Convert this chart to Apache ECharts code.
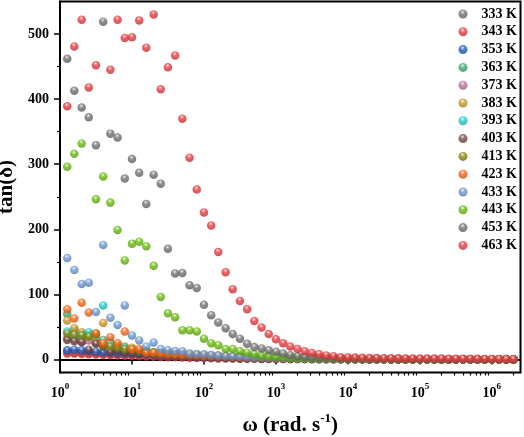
<!DOCTYPE html>
<html>
<head>
<meta charset="utf-8">
<script src="https://cdn.jsdelivr.net/npm/echarts@6/dist/echarts.min.js"></script>
<style>html,body{margin:0;padding:0;background:#fff}#c{width:524px;height:437px}</style>
</head>
<body>
<div id="c"></div>
<script>
// angular frequency (rad/s)
const omega = [1.26,1.58,2.00,2.51,3.16,3.98,5.01,6.31,7.94,10.0,12.6,15.8,20.0,25.1,31.6,39.8,50.1,63.1,79.4,100,126,158,200,251,316,398,501,631,794,1000,1259,1585,1995,2512,3162,3981,5012,6310,7943,10000,12589,15849,19953,25119,31623,39811,50119,63096,79433,100000,125893,158489,199526,251189,316228,398107,501187,630957,794328,1000000,1258925,1584893,1995262];

const seriesNames = ['333 K','343 K','353 K','363 K','373 K','383 K','393 K','403 K','413 K','423 K','433 K','443 K','453 K','463 K'];

const t333 = [12,11,10.5,10,9.5,9,8.5,8,7.5,7,6.6,6.2,5.8,5.4,5,4.6,4.2,3.8,3.4,3,2.7,2.4,2.1,1.9,1.7,1.5,1.35,1.2,1.1,1,0.9,0.85,0.8,0.75,0.7,0.65,0.6,0.55,0.5,0.48,0.46,0.44,0.42,0.4,0.38,0.36,0.34,0.32,0.3,0.29,0.28,0.27,0.26,0.25,0.24,0.23,0.22,0.21,0.2,0.19,0.18,0.17,0.16];
const t343 = [9,9,8.5,8,7.5,7,6.5,6,5.6,5.2,4.8,4.5,4.2,3.9,3.6,3.3,3,2.7,2.4,2.1,1.9,1.7,1.5,1.35,1.2,1.1,1,0.9,0.85,0.8,0.75,0.7,0.65,0.6,0.55,0.5,0.48,0.46,0.44,0.42,0.4,0.38,0.36,0.34,0.32,0.3,0.29,0.28,0.27,0.26,0.25,0.24,0.23,0.22,0.21,0.2,0.19,0.18,0.17,0.16,0.15,0.14,0.13];
const t353 = [14,15,14,13,12,11,10.5,10,9.5,9,8.5,8,7.5,7,6.5,6,5.5,5,4.6,4.2,3.8,3.4,3,2.7,2.4,2.1,1.9,1.7,1.5,1.35,1.2,1.1,1,0.9,0.85,0.8,0.75,0.7,0.65,0.6,0.55,0.5,0.48,0.46,0.44,0.42,0.4,0.38,0.36,0.34,0.32,0.3,0.29,0.28,0.27,0.26,0.25,0.24,0.23,0.22,0.21,0.2,0.19];
const t363 = [70,45,40,38,33,30,26,22,19,16,14,12,11,10,9,8.5,8,7.5,7,6.5,6,5.5,5,4.6,4.2,3.8,3.4,3,2.7,2.4,2.1,1.9,1.7,1.5,1.35,1.2,1.1,1,0.9,0.85,0.8,0.75,0.7,0.65,0.6,0.55,0.5,0.48,0.46,0.44,0.42,0.4,0.38,0.36,0.34,0.32,0.3,0.29,0.28,0.27,0.26,0.25,0.24];
const t373 = [33,31,27,29,25,23,21,19,16,15,12,11,10,9,8,7.5,7,6.5,6,5.5,5,4.6,4.2,3.8,3.4,3,2.7,2.4,2.1,1.9,1.7,1.5,1.35,1.2,1.1,1,0.9,0.85,0.8,0.75,0.7,0.65,0.6,0.55,0.5,0.48,0.46,0.44,0.42,0.4,0.38,0.36,0.34,0.32,0.3,0.29,0.28,0.27,0.26,0.25,0.24,0.23,0.22];
const t383 = [60,48,42,36,32,56,26,22,20,18,14,12,10,9,8,7.5,7,6.5,6,5.5,5,4.6,4.2,3.8,3.4,3,2.7,2.4,2.1,1.9,1.7,1.5,1.35,1.2,1.1,1,0.9,0.85,0.8,0.75,0.7,0.65,0.6,0.55,0.5,0.48,0.46,0.44,0.42,0.4,0.38,0.36,0.34,0.32,0.3,0.29,0.28,0.27,0.26,0.25,0.24,0.23,0.22];
const t393 = [43,35,37,42,38,83,25,20,18,15,12,10,9,8,7.5,7,6.5,6,5.5,5,4.6,4.2,3.8,3.4,3,2.7,2.4,2.1,1.9,1.7,1.5,1.35,1.2,1.1,1,0.9,0.85,0.8,0.75,0.7,0.65,0.6,0.55,0.5,0.48,0.46,0.44,0.42,0.4,0.38,0.36,0.34,0.32,0.3,0.29,0.28,0.27,0.26,0.25,0.24,0.23,0.22,0.21];
const t403 = [30,28,27,15,24,20,12,14,11,10,9,8.5,8,7.5,7,6.5,6,5.5,5,4.6,4.2,3.8,3.4,3,2.7,2.4,2.1,1.9,1.7,1.5,1.35,1.2,1.1,1,0.9,0.85,0.8,0.75,0.7,0.65,0.6,0.55,0.5,0.48,0.46,0.44,0.42,0.4,0.38,0.36,0.34,0.32,0.3,0.29,0.28,0.27,0.26,0.25,0.24,0.23,0.22,0.21,0.2];
const t413 = [40,38,37,35,40,22,20,18,16,15,14,12,11,10,9.5,9,8.5,8,7.5,7,6.5,6,5.5,5,4.5,4,3.6,3.2,2.8,2.5,2.2,2,1.8,1.6,1.4,1.3,1.2,1.1,1,0.9,0.85,0.8,0.75,0.7,0.65,0.6,0.55,0.5,0.48,0.46,0.44,0.42,0.4,0.38,0.36,0.34,0.32,0.3,0.29,0.28,0.27,0.26,0.25];
const t423 = [77,63,87,72,40,25,34,25,43,16,16,10,10,9,8,7.5,7,6.5,6,5.5,5,4.6,4.2,3.8,3.4,3,2.7,2.4,2.1,1.9,1.7,1.5,1.35,1.2,1.1,1.0,0.9,0.8,0.75,0.7,0.65,0.6,0.55,0.5,0.48,0.45,0.42,0.4,0.38,0.36,0.34,0.32,0.3,0.29,0.28,0.27,0.26,0.25,0.24,0.23,0.22,0.21,0.2];
const t433 = [156,137.5,116,118,73,176,64,53,83,37,29,20,26,16,14,13,12.5,9,8.5,8,7,6,5.5,5,4.5,4,3.6,3.2,2.9,2.6,2.3,2.1,1.9,1.7,1.5,1.4,1.3,1.2,1.1,1.0,0.95,0.9,0.85,0.8,0.75,0.7,0.65,0.6,0.58,0.55,0.52,0.5,0.48,0.46,0.44,0.42,0.4,0.38,0.36,0.35,0.34,0.33,0.32];
const t443 = [296,316,332,null,246,281,241,199,152,178,181,174,144,96,71,65,45,45,43,32,25,22,16,16,12.7,10.5,8,6,5,4.2,3.5,3,2.6,2.3,2,1.8,1.6,1.4,1.25,1.1,1.0,0.9,0.8,0.75,0.7,0.65,0.6,0.55,0.5,0.48,0.45,0.42,0.4,0.38,0.36,0.34,0.32,0.3,0.29,0.28,0.27,0.26,0.25];
const t453 = [462,413,387,372,329,519,347,341,278,308,287,239,284,270,170,132,133,114,110,84,68,57,48,39,32,24,19,17,14,12,9,6.6,5,4.2,3.5,3.0,2.6,2.2,1.9,1.7,1.5,1.3,1.2,1.1,1.0,0.9,0.85,0.8,0.75,0.7,0.65,0.6,0.58,0.55,0.52,0.5,0.48,0.46,0.44,0.42,0.4,0.38,0.36];
const t463 = [389,481,522,418,452,null,445,522,494,495,521,479,530,415,449,467,370,310,261,226,206,165,134,108,90,77,59,49,39,31,25,20,16,12.7,10,8,6,5,3.5,3.2,3.0,2.6,2.3,2.2,2.0,1.9,1.8,1.7,1.6,1.5,1.45,1.4,1.35,1.3,1.25,1.2,1.1,1.0,0.9,0.8,0.7,0.6,0.5];

const seriesValues = [t333,t343,t353,t363,t373,t383,t393,t403,t413,t423,t433,t443,t453,t463];
const seriesColors = ['#737373','#ee3b3f','#1f5fbf','#3aae7a','#c0739a','#d09a28','#1fd0d0','#784848','#8c8c10','#ff6614','#6d9bd6','#6cbf10','#737373','#ee3b3f'];

const yLabels = [0,100,200,300,400,500];
const yMinor = [50,150,250,350,450];
const xLabels = [1,10,100,1000,10000,100000,1000000];
const xMinor = [];
[1,10,100,1000,10000,100000,1000000].forEach(d => { [2,3,4,5,6,7,8,9].forEach(m => { if (d*m < 2.5e6) xMinor.push(d*m); }); });

const FONT = '"Liberation Serif","Times New Roman",serif';
const GRID = { left: 60, right: 3.5, top: 1.5, bottom: 64.5 };
const W = 524, H = 437;

function shade(hex, f) {
  const n = parseInt(hex.slice(1), 16);
  let r = (n >> 16) & 255, g = (n >> 8) & 255, b = n & 255;
  if (f < 0) { r = Math.round(r*(1+f)); g = Math.round(g*(1+f)); b = Math.round(b*(1+f)); }
  else { r = Math.round(r+(255-r)*f); g = Math.round(g+(255-g)*f); b = Math.round(b+(255-b)*f); }
  return 'rgb(' + r + ',' + g + ',' + b + ')';
}
function ball(c) {
  return {
    type: 'radial', x: 0.45, y: 0.3, r: 0.75,
    colorStops: [
      {offset: 0, color: '#ffffff'},
      {offset: 0.12, color: shade(c, 0.5)},
      {offset: 0.35, color: c},
      {offset: 1, color: shade(c, -0.25)}
    ]
  };
}

const series = seriesNames.map((name, i) => ({
  name: name,
  type: 'scatter',
  xAxisIndex: 0, yAxisIndex: 0,
  symbol: 'circle',
  symbolSize: 8.5,
  itemStyle: { color: ball(seriesColors[i]) },
  data: omega.map((w, k) => [w, seriesValues[i][k]]).filter(p => p[1] !== null && p[1] !== undefined),
  emphasis: { disabled: true },
  animation: false
}));

const plotH = H - GRID.top - GRID.bottom;
const plotW = W - GRID.left - GRID.right;

const chart = echarts.init(document.getElementById('c'), null, {renderer: 'canvas'});
chart.setOption({
  animation: false,
  backgroundColor: '#fff',
  grid: Object.assign({ containLabel: false, outerBoundsMode: 'none', show: true, borderColor: '#000', borderWidth: 2, backgroundColor: 'transparent' }, GRID),
  legend: {
    orient: 'vertical', left: 453.5, top: 2,
    itemWidth: 9, itemHeight: 9, itemGap: 3.8,
    icon: 'circle',
    textStyle: { fontFamily: FONT, fontWeight: 'bold', fontSize: 14, color: '#000', lineHeight: 14, padding: [0, 0, 0, 9] },
    data: seriesNames
  },
  xAxis: [{
    type: 'log', logBase: 10, min: 1, max: 2.5e6, position: 'bottom',
    name: '{t|ω (rad. s}{s|-1}{t|)}',
    nameLocation: 'middle', nameGap: 40,
    nameTextStyle: {
      rich: {
        t: { fontFamily: FONT, fontWeight: 'bold', fontSize: 21, color: '#000', lineHeight: 24, verticalAlign: 'bottom' },
        s: { fontFamily: FONT, fontWeight: 'bold', fontSize: 13, color: '#000', lineHeight: 13, verticalAlign: 'top' }
      }
    },
    axisLine: { show: true, lineStyle: { color: '#000', width: 2 } },
    axisTick: { show: true, inside: false, length: 5, lineStyle: { color: '#000', width: 1.5 }, customValues: xLabels },
    axisLabel: {
      customValues: xLabels,
      margin: 10,
      formatter: function (v) { return '{b|10}{s|' + Math.round(Math.log10(v)) + '}'; },
      rich: {
        b: { fontFamily: FONT, fontWeight: 'bold', fontSize: 14, color: '#000', lineHeight: 18, verticalAlign: 'bottom' },
        s: { fontFamily: FONT, fontWeight: 'bold', fontSize: 9, color: '#000', lineHeight: 9, verticalAlign: 'top' }
      }
    },
    splitLine: { show: false }
  }, {
    // minor ticks, moved onto the bottom edge
    type: 'log', logBase: 10, min: 1, max: 2.5e6, position: 'top', offset: -plotH,
    axisLine: { show: false },
    axisTick: { show: true, inside: true, length: 3, lineStyle: { color: '#000', width: 1.2 }, customValues: xMinor },
    axisLabel: { show: false },
    splitLine: { show: false }
  }],
  yAxis: [{
    type: 'value', min: -20, max: 550, position: 'left',
    name: 'tan(δ)', nameLocation: 'middle', nameGap: 32, nameRotate: 90,
    nameTextStyle: { fontFamily: FONT, fontWeight: 'bold', fontSize: 21, color: '#000' },
    axisLine: { show: true, lineStyle: { color: '#000', width: 2 } },
    axisTick: { show: true, length: 6, lineStyle: { color: '#000', width: 1.5 }, customValues: yLabels },
    axisLabel: { customValues: yLabels, margin: 11, fontFamily: FONT, fontWeight: 'bold', fontSize: 14, color: '#000' },
    splitLine: { show: false }
  }, {
    // minor ticks, moved onto the left edge
    type: 'value', min: -20, max: 550, position: 'right', offset: -plotW,
    axisLine: { show: false },
    axisTick: { show: true, inside: true, length: 3, lineStyle: { color: '#000', width: 1.2 }, customValues: yMinor },
    axisLabel: { show: false },
    splitLine: { show: false }
  }],
  series: series
});
</script>
</body>
</html>
